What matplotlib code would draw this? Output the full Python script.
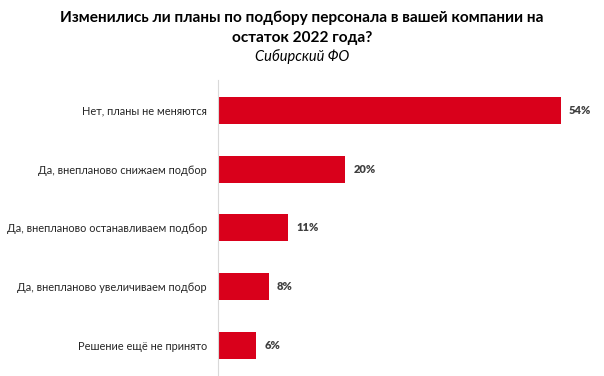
import matplotlib.pyplot as plt

plt.rcParams['font.family'] = ['Lato', 'DejaVu Sans']

categories = ['Нет, планы не меняются',
              'Да, внепланово снижаем подбор',
              'Да, внепланово останавливаем подбор',
              'Да, внепланово увеличиваем подбор',
              'Решение ещё не принято']
values = [54, 20, 11, 8, 6]
value_labels = ['54%', '20%', '11%', '8%', '6%']

fig = plt.figure(figsize=(6.04, 3.76), dpi=100)
ax = fig.add_axes([0.361, 0.003, 0.619, 0.785])

pos = list(range(len(categories)))
ax.barh(pos, values, height=0.46, color='#D9001B')
for p, v, lab in zip(pos, values, value_labels):
    ax.text(v + 1.3, p, lab, va='center', ha='left', fontsize=8,
            fontweight='heavy', color='#404040')

ax.set_ylim(4.5, -0.52)
ax.set_xlim(0, 58.9)
ax.set_yticks(pos)
ax.set_yticklabels(categories, fontsize=7.9, color='#262626')
ax.tick_params(axis='y', length=0, pad=8)
ax.set_xticks([])
for s in ['top', 'right', 'bottom']:
    ax.spines[s].set_visible(False)
ax.spines['left'].set_color('#D9D9D9')

fig.text(0.5, 0.952, 'Изменились ли планы по подбору персонала в вашей компании на',
         ha='center', va='center', fontsize=11.1, fontweight='bold', color='black')
fig.text(0.5, 0.899, 'остаток 2022 года?',
         ha='center', va='center', fontsize=11.1, fontweight='bold', color='black')
fig.text(0.5, 0.851, 'Сибирский ФО', ha='center', va='center', fontsize=10.5,
         style='italic', color='black')

fig.savefig('out.png', dpi=100)
